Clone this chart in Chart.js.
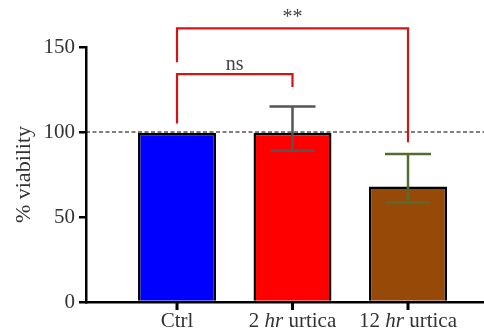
<!DOCTYPE html>
<html>
<head>
<meta charset="utf-8">
<script src="https://cdn.jsdelivr.net/npm/chart.js@4.4.0/dist/chart.umd.min.js"></script>
<style>
  body { margin: 0; background: #fff; }
  #wrap { width: 484px; height: 329px; position: relative; }
</style>
</head>
<body>
<div id="wrap"><canvas id="myChart"></canvas></div>
<script>
'use strict';

// data
let groups = ['Ctrl', '2 hr urtica', '12 hr urtica'];
let viability = [99.5, 99.5, 68];
let errTop = [null, 115, 87];
let errBottom = [null, 89, 58.5];
let yTicks = [0, 50, 100, 150];
let refLine = 100;

// significance brackets: from group, to group, bar level, leg ends, label
let brackets = [
  { from: 0, to: 2, level: 161, leftEnd: 141, rightEnd: 94, label: '**', labelAt: 167 },
  { from: 0, to: 1, level: 134, leftEnd: 105, rightEnd: 126.5, label: 'ns', labelAt: 139.5 }
];

let barColors = ['#0000ff', '#ff0000', '#974a07'];
let errColors = ['#555555', '#555555', '#556b2f'];
let serif = '"Liberation Serif", "DejaVu Serif", serif';

const refLinePlugin = {
  id: 'refLine',
  beforeDatasetsDraw(chart) {
    let ctx = chart.ctx;
    let y = chart.scales.y.getPixelForValue(refLine);
    ctx.save();
    ctx.strokeStyle = '#000';
    ctx.lineWidth = 1.2;
    ctx.setLineDash([4, 2.5]);
    ctx.beginPath();
    ctx.moveTo(chart.chartArea.left, y);
    ctx.lineTo(chart.chartArea.right, y);
    ctx.stroke();
    ctx.restore();
  }
};

const extrasPlugin = {
  id: 'extras',
  afterDraw(chart) {
    let ctx = chart.ctx;
    let xs = chart.scales.x;
    let ys = chart.scales.y;
    ctx.save();

    // error bars
    ctx.lineWidth = 2.5;
    for (let i = 0; i < groups.length; i++) {
      if (errTop[i] === null) continue;
      let x = xs.getPixelForValue(i + 1);
      let yt = ys.getPixelForValue(errTop[i]);
      let yb = ys.getPixelForValue(errBottom[i]);
      ctx.strokeStyle = errColors[i];
      ctx.beginPath();
      ctx.moveTo(x, yt); ctx.lineTo(x, yb);
      ctx.moveTo(x - 23, yt); ctx.lineTo(x + 23, yt);
      ctx.moveTo(x - 22, yb); ctx.lineTo(x + 22, yb);
      ctx.stroke();
    }

    // brackets
    ctx.strokeStyle = '#d41414';
    ctx.lineWidth = 2.2;
    ctx.fillStyle = '#444';
    ctx.font = '20px ' + serif;
    ctx.textAlign = 'center';
    ctx.textBaseline = 'middle';
    for (let b of brackets) {
      let x1 = xs.getPixelForValue(b.from + 1);
      let x2 = xs.getPixelForValue(b.to + 1);
      ctx.beginPath();
      ctx.moveTo(x1, ys.getPixelForValue(b.leftEnd));
      ctx.lineTo(x1, ys.getPixelForValue(b.level));
      ctx.lineTo(x2, ys.getPixelForValue(b.level));
      ctx.lineTo(x2, ys.getPixelForValue(b.rightEnd));
      ctx.stroke();
      ctx.fillText(b.label, (x1 + x2) / 2, ys.getPixelForValue(b.labelAt));
    }

    // category tick marks below the axis
    let axisY = ys.getPixelForValue(0);
    ctx.fillStyle = '#000';
    for (let i = 0; i < groups.length; i++) {
      let x = xs.getPixelForValue(i + 1);
      ctx.fillRect(x - 1.5, axisY, 3, 8);
    }

    // category labels, "hr" in italics
    ctx.fillStyle = '#333';
    ctx.textAlign = 'left';
    ctx.textBaseline = 'alphabetic';
    for (let i = 0; i < groups.length; i++) {
      let parts = groups[i].split(' ');
      let pieces = [];
      parts.forEach((p, k) => {
        let italic = p === 'hr';
        pieces.push({ t: p, f: (italic ? 'italic ' : '') + '21px ' + serif });
        if (k < parts.length - 1) pieces.push({ t: ' ', f: '21px ' + serif });
      });
      let w = 0;
      pieces.forEach(p => { ctx.font = p.f; w += ctx.measureText(p.t).width; });
      let x = xs.getPixelForValue(i + 1) - w / 2;
      pieces.forEach(p => {
        ctx.font = p.f;
        ctx.fillText(p.t, x, 327);
        x += ctx.measureText(p.t).width;
      });
    }
    ctx.restore();
  }
};

let chartObject = {
  type: 'bar',
  data: {
    datasets: [{
      data: groups.map((g, i) => ({ x: i + 1, y: viability[i] })),
      backgroundColor: barColors,
      borderColor: '#000',
      borderWidth: 2.5,
      borderSkipped: 'start',
      categoryPercentage: 1,
      barPercentage: 0.675
    }]
  },
  options: {
    responsive: true,
    maintainAspectRatio: false,
    animation: false,
    layout: { padding: { top: 47, left: 0, right: 0, bottom: 0 } },
    plugins: { legend: { display: false }, tooltip: { enabled: false } },
    scales: {
      x: {
        type: 'linear',
        offset: false,
        min: 0.212,
        max: 3.658,
        afterBuildTicks: scale => { scale.ticks = groups.map((g, i) => ({ value: i + 1 })); },
        afterFit: scale => { scale.height = 27; },
        ticks: { display: false },
        grid: { display: false },
        border: { display: true, color: '#000', width: 2.5 }
      },
      y: {
        min: 0,
        max: 150,
        afterBuildTicks: scale => { scale.ticks = yTicks.map(v => ({ value: v })); },
        afterFit: scale => { scale.width = 86; },
        ticks: { padding: 4, color: '#333', font: { family: serif, size: 21 } },
        grid: { drawOnChartArea: false, drawTicks: true, tickLength: 7, color: '#000', lineWidth: 2.5 },
        border: { display: true, color: '#000', width: 2.5 },
        title: {
          display: true,
          text: '% viability',
          color: '#333',
          font: { family: serif, size: 22 },
          padding: { top: 11, bottom: 0 }
        }
      }
    }
  },
  plugins: [refLinePlugin, extrasPlugin]
};

let ctx = document.getElementById('myChart').getContext('2d');
let myChart = new Chart(ctx, chartObject);
</script>
</body>
</html>
